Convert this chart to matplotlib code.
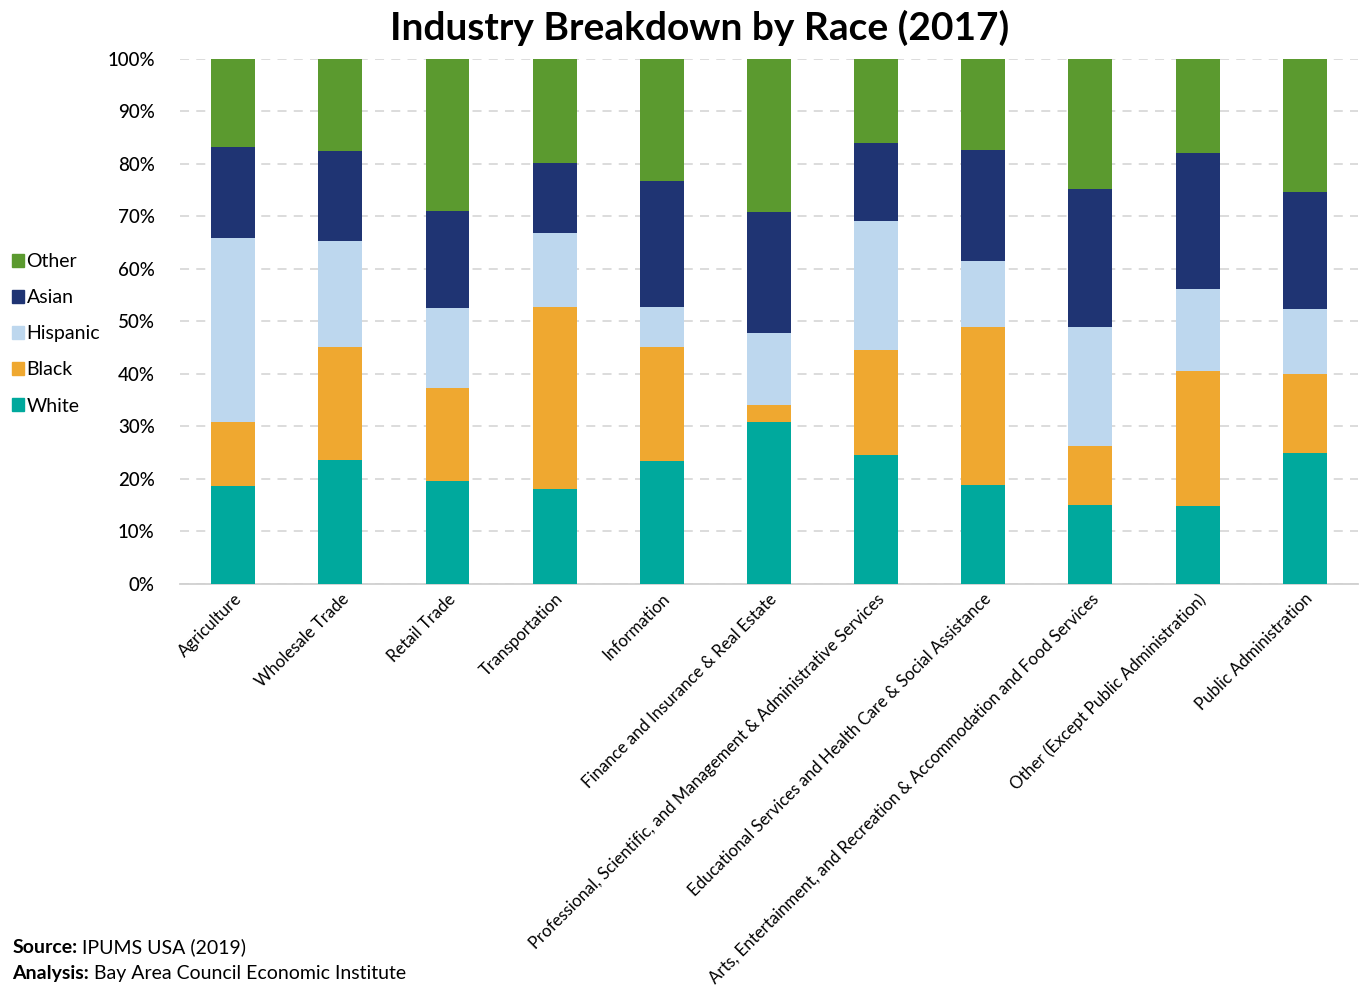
import matplotlib
matplotlib.use('Agg')
import matplotlib.pyplot as plt
import matplotlib.patches as mpatches
from matplotlib.ticker import PercentFormatter

industries = [
    'Agriculture',
    'Wholesale Trade',
    'Retail Trade',
    'Transportation',
    'Information',
    'Finance and Insurance & Real Estate',
    'Professional, Scientific, and Management & Administrative Services',
    'Educational Services and Health Care & Social Assistance',
    'Arts, Entertainment, and Recreation & Accommodation and Food Services',
    'Other (Except Public Administration)',
    'Public Administration',
]

# shares in percent, stacked bottom to top
white = [18.7, 23.6, 19.6, 18.1, 23.4, 30.9, 24.6, 18.9, 15.0, 14.9, 25.0]
black = [12.2, 21.5, 17.7, 34.7, 21.7, 3.2, 20.0, 30.1, 11.3, 25.7, 15.0]
hispanic = [35.0, 20.2, 15.3, 14.1, 7.7, 13.7, 24.5, 12.5, 22.7, 15.6, 12.4]
asian = [17.3, 17.2, 18.4, 13.3, 24.0, 23.1, 14.9, 21.2, 26.2, 25.9, 22.3]
other = [16.8, 17.5, 29.0, 19.8, 23.2, 29.1, 16.0, 17.3, 24.8, 17.9, 25.3]

series = [
    ('White', white, '#00A99D'),
    ('Black', black, '#EFA830'),
    ('Hispanic', hispanic, '#BDD7EE'),
    ('Asian', asian, '#1F3473'),
    ('Other', other, '#5B9A2F'),
]

plt.rcParams['font.family'] = ['Lato', 'DejaVu Sans']

fig = plt.figure(figsize=(13.61, 9.98), dpi=100)
ax = fig.add_axes([0.132, 0.415, 0.866, 0.526])

x = list(range(len(industries)))
bottom = [0.0] * len(industries)
handles = []
for name, vals, color in series:
    ax.bar(x, vals, width=0.41, bottom=bottom, color=color, zorder=3)
    bottom = [b + v for b, v in zip(bottom, vals)]
    handles.append(mpatches.Patch(color=color, label=name))

ax.set_xlim(-0.5, 10.5)
ax.set_ylim(0, 100)
ax.set_yticks(range(0, 101, 10))
ax.yaxis.set_major_formatter(PercentFormatter(decimals=0))
ax.grid(axis='y', color='#D9D9D9', linestyle=(0, (5, 4)), linewidth=1.3, zorder=0)
ax.tick_params(axis='y', length=0, labelsize=13.5, pad=18)
ax.tick_params(axis='x', length=0, pad=5)
for lbl in ax.get_yticklabels():
    lbl.set_fontweight('medium')

ax.set_xticks(x)
ax.set_xticklabels(industries, rotation=45, ha='right', rotation_mode='anchor', fontsize=12.1)

for side in ['left', 'right', 'top']:
    ax.spines[side].set_visible(False)
ax.spines['bottom'].set_color('#D0D0D0')
ax.spines['bottom'].set_linewidth(1.3)

fig.legend(handles=handles[::-1], loc='upper left', bbox_to_anchor=(0.003, 0.754),
           frameon=False, fontsize=14, handlelength=0.6, handleheight=0.6,
           handletextpad=0.15, labelspacing=0.98, borderaxespad=0)

fig.text(0.514, 0.972, 'Industry Breakdown by Race (2017)', ha='center', va='center',
         fontsize=28, fontweight='bold')

# footer: bold caption followed by regular text
for y, head, body in [(0.051, 'Source:', ' IPUMS USA (2019)'),
                      (0.025, 'Analysis:', ' Bay Area Council Economic Institute')]:
    t = fig.text(0.009, y, head, fontsize=14, fontweight='bold', va='center')
    fig.canvas.draw()
    bb = t.get_window_extent()
    fig.text(bb.x1 / fig.bbox.width, y, body, fontsize=14, va='center')

fig.savefig('out.png', dpi=100)
